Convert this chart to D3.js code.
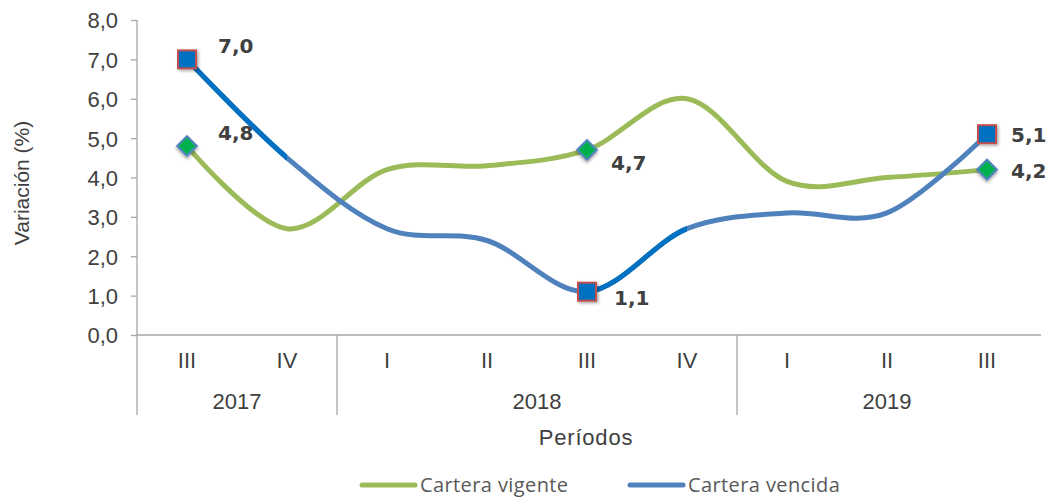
<!DOCTYPE html>
<html>
<head>
<meta charset="utf-8">
<script src="https://cdnjs.cloudflare.com/ajax/libs/d3/7.8.5/d3.min.js"></script>
<style>
  body { margin: 0; background: #fff; }
  svg { display: block; }
</style>
</head>
<body>
<script>
// data
var quarters = ["III", "IV", "I", "II", "III", "IV", "I", "II", "III"];
var years = [
  { label: "2017", start: 0, end: 2 },
  { label: "2018", start: 2, end: 6 },
  { label: "2019", start: 6, end: 9 }
];
var vigente = [4.8, 2.7, 4.2, 4.3, 4.7, 6.0, 3.9, 4.0, 4.2];
var vencida = [7.0, 4.5, 2.7, 2.4, 1.1, 2.7, 3.1, 3.1, 5.1];
var markedIdx = [0, 4, 8];
var yTicks = [0, 1, 2, 3, 4, 5, 6, 7, 8];

var W = 1047, H = 498;
var plotL = 137, plotR = 1037, plotT = 20, plotB = 335;

var svg = d3.select("body").append("svg")
  .attr("width", W)
  .attr("height", H);

var defs = svg.append("defs");
var sh = defs.append("filter").attr("id", "shadow")
  .attr("x", "-50%").attr("y", "-50%").attr("width", "200%").attr("height", "200%");
sh.append("feDropShadow").attr("dx", 1.5).attr("dy", 1.5).attr("stdDeviation", 1.5)
  .attr("flood-color", "#000").attr("flood-opacity", 0.35);

var idx = quarters.map(function(d, i) { return i; });
var x = d3.scaleBand().domain(idx).range([plotL, plotR]).padding(0);
var cx = function(i) { return x(i) + x.bandwidth() / 2; };
var y = d3.scaleLinear().domain([0, 8]).range([plotB, plotT]);

var fmt = function(v) { return d3.format(".1f")(v).replace(".", ","); };
var axisFont = "'Liberation Sans', Arial, sans-serif";

// y axis
var yAxis = svg.append("g")
  .attr("transform", "translate(" + plotL + ",0)")
  .call(d3.axisLeft(y).tickValues(yTicks).tickSize(6).tickSizeOuter(0).tickFormat(fmt));
yAxis.select(".domain").remove();
yAxis.selectAll(".tick line").attr("stroke", "#a6a6a6").attr("stroke-width", 1.3);
yAxis.selectAll(".tick text")
  .attr("x", -19)
  .attr("dy", "0.36em")
  .style("font-family", axisFont)
  .style("font-size", "22px")
  .attr("fill", "#404040");

svg.append("line")
  .attr("x1", plotL).attr("x2", plotL).attr("y1", plotT).attr("y2", 415)
  .attr("stroke", "#a6a6a6").attr("stroke-width", 1.3);

// x axis line
svg.append("line")
  .attr("x1", plotL).attr("x2", 1041).attr("y1", plotB).attr("y2", plotB)
  .attr("stroke", "#a6a6a6").attr("stroke-width", 1.3);

// group separators
svg.selectAll(".sep").data(years.slice(1)).enter().append("line")
  .attr("x1", function(d) { return x(d.start); })
  .attr("x2", function(d) { return x(d.start); })
  .attr("y1", plotB).attr("y2", 415)
  .attr("stroke", "#a6a6a6").attr("stroke-width", 1.3);

// category labels
svg.selectAll(".qlab").data(quarters).enter().append("text")
  .attr("x", function(d, i) { return cx(i); })
  .attr("y", 368)
  .attr("text-anchor", "middle")
  .style("font-family", axisFont)
  .style("font-size", "22px")
  .attr("fill", "#404040")
  .text(function(d) { return d; });

svg.selectAll(".ylab").data(years).enter().append("text")
  .attr("x", function(d) { return (x(d.start) + (d.end < 9 ? x(d.end) : plotR)) / 2; })
  .attr("y", 409)
  .attr("text-anchor", "middle")
  .style("font-family", axisFont)
  .style("font-size", "22px")
  .attr("fill", "#404040")
  .text(function(d) { return d.label; });

svg.append("text")
  .attr("x", 586).attr("y", 445)
  .attr("text-anchor", "middle")
  .style("font-family", axisFont)
  .style("font-size", "22px")
  .style("letter-spacing", "0.8px")
  .attr("fill", "#404040")
  .text("Períodos");

svg.append("text")
  .attr("transform", "translate(29,183) rotate(-90)")
  .attr("text-anchor", "middle")
  .style("font-family", axisFont)
  .style("font-size", "21px")
  .attr("fill", "#404040")
  .text("Variación (%)");

// lines
var line = d3.line()
  .x(function(d, i) { return cx(i); })
  .y(function(d) { return y(d); })
  .curve(d3.curveCardinal.tension(0));

svg.append("path")
  .datum(vigente)
  .attr("fill", "none")
  .attr("stroke", "#9bbb59")
  .attr("stroke-width", 5)
  .attr("stroke-linecap", "round")
  .attr("d", line);

svg.append("path")
  .datum(vencida)
  .attr("fill", "none")
  .attr("stroke", "#4f81bd")
  .attr("stroke-width", 5)
  .attr("stroke-linecap", "round")
  .attr("d", line);

// darker segments after the highlighted points
var darkSeg = [0, 4];
darkSeg.forEach(function(s) {
  var cp = defs.append("clipPath").attr("id", "seg" + s);
  cp.append("rect")
    .attr("x", cx(s)).attr("y", 0)
    .attr("width", cx(s + 1) - cx(s)).attr("height", H);
  svg.append("path")
    .datum(vencida)
    .attr("fill", "none")
    .attr("stroke", "#0070c0")
    .attr("stroke-width", 5)
    .attr("clip-path", "url(#seg" + s + ")")
    .attr("d", line);
});

// markers
svg.selectAll(".dia").data(markedIdx).enter().append("rect")
  .attr("x", -7).attr("y", -7).attr("width", 14).attr("height", 14)
  .attr("transform", function(i) { return "translate(" + cx(i) + "," + y(vigente[i]) + ") rotate(45)"; })
  .attr("fill", "#00b050")
  .attr("stroke", "#4f81bd")
  .attr("stroke-width", 2)
  .attr("filter", "url(#shadow)");

svg.selectAll(".sq").data(markedIdx).enter().append("rect")
  .attr("x", function(i) { return cx(i) - 9; })
  .attr("y", function(i) { return y(vencida[i]) - 9; })
  .attr("width", 18).attr("height", 18)
  .attr("fill", "#0070c0")
  .attr("stroke", "#c0504d")
  .attr("stroke-width", 2)
  .attr("filter", "url(#shadow)");

// value labels
var vigOff = { 0: [31, -6], 4: [24, 20], 8: [24, 8] };
var venOff = { 0: [31, -6], 4: [27, 13], 8: [24, 8] };
function addLabels(series, off) {
  svg.selectAll(null).data(markedIdx).enter().append("text")
    .attr("x", function(i) { return cx(i) + off[i][0]; })
    .attr("y", function(i) { return y(series[i]) + off[i][1]; })
    .style("font-family", "'DejaVu Sans', sans-serif")
    .style("font-weight", "bold")
    .style("font-size", "20px")
    .attr("fill", "#404040")
    .text(function(i) { return fmt(series[i]); });
}
addLabels(vigente, vigOff);
addLabels(vencida, venOff);

// legend
var legend = [
  { name: "Cartera vigente", color: "#9bbb59", x: 362 },
  { name: "Cartera vencida", color: "#4f81bd", x: 630 }
];
var lg = svg.selectAll(".lg").data(legend).enter().append("g")
  .attr("transform", function(d) { return "translate(" + d.x + ",485)"; });
lg.append("line")
  .attr("x1", 0).attr("x2", 53).attr("y1", 0).attr("y2", 0)
  .attr("stroke", function(d) { return d.color; })
  .attr("stroke-width", 5)
  .attr("stroke-linecap", "round");
lg.append("text")
  .attr("x", 58).attr("y", 7)
  .style("font-family", "'Open Sans', sans-serif")
  .style("font-size", "20px")
  .style("letter-spacing", "0.4px")
  .attr("fill", "#595959")
  .text(function(d) { return d.name; });
</script>
</body>
</html>
